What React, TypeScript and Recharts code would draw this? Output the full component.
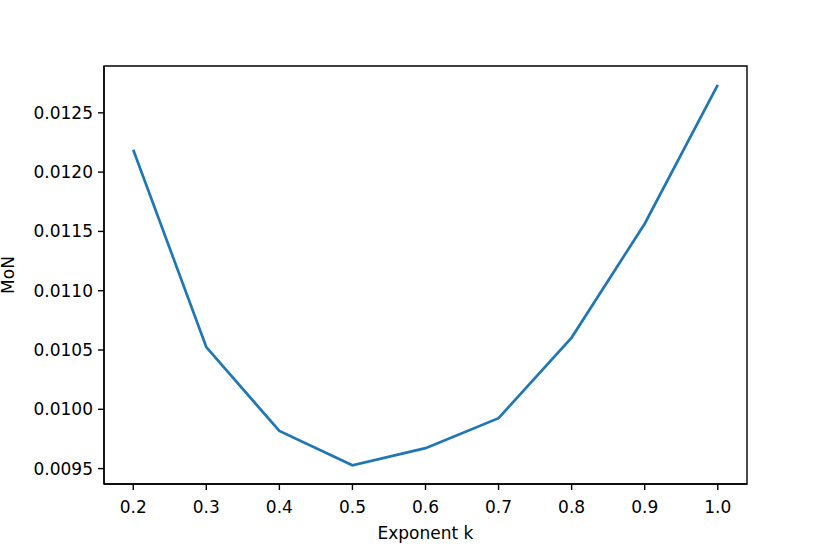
import React from 'react';
import { LineChart, Line, XAxis, YAxis, ReferenceArea } from 'recharts';

const exponents = [0.2, 0.3, 0.4, 0.5, 0.6, 0.7, 0.8, 0.9, 1.0];
const monValues = [0.012189, 0.010525, 0.009817, 0.009528, 0.009672, 0.009925, 0.010605, 0.011565, 0.012735];
const xTicks = [0.2, 0.3, 0.4, 0.5, 0.6, 0.7, 0.8, 0.9, 1.0];
const yTicks = [0.0095, 0.01, 0.0105, 0.011, 0.0115, 0.012, 0.0125];

const data = exponents.map((k, i) => ({ k, mon: monValues[i] }));

const X_DOMAIN: [number, number] = [0.16, 1.04];
const Y_DOMAIN: [number, number] = [0.00937, 0.012895];

const FONT = 'DejaVu Sans, sans-serif';
const tickStyle = { fontSize: 17, fill: '#000', fontFamily: FONT };
const axisLine = { stroke: '#000', strokeWidth: 1.4 };

const App: React.FC = () => {
  return (
    <div style={{ position: 'absolute', left: 0, top: 0, width: 830, height: 554, background: '#fff' }}>
      <LineChart
        width={830}
        height={554}
        data={data}
        margin={{ top: 66, right: 83, bottom: 0, left: 0 }}
      >
        <XAxis
          dataKey="k"
          type="number"
          domain={X_DOMAIN}
          ticks={xTicks}
          tickFormatter={(v: number) => v.toFixed(1)}
          height={70}
          tickSize={6}
          tickMargin={11}
          axisLine={axisLine}
          tickLine={{ stroke: '#000', strokeWidth: 1.4 }}
          tick={tickStyle}
          allowDataOverflow
          label={{ value: 'Exponent k', position: 'insideBottom', offset: 15, fontSize: 17, fill: '#000', fontFamily: FONT }}
        />
        <YAxis
          type="number"
          domain={Y_DOMAIN}
          ticks={yTicks}
          tickFormatter={(v: number) => v.toFixed(4)}
          width={104}
          tickSize={6}
          tickMargin={5}
          axisLine={axisLine}
          tickLine={{ stroke: '#000', strokeWidth: 1.4 }}
          tick={tickStyle}
          allowDataOverflow
          label={{ value: 'MoN', angle: -90, position: 'center', dx: -44, fontSize: 17, fill: '#000', fontFamily: FONT }}
        />
        <ReferenceArea
          x1={X_DOMAIN[0]}
          x2={X_DOMAIN[1]}
          y1={Y_DOMAIN[0]}
          y2={Y_DOMAIN[1]}
          fill="none"
          fillOpacity={0}
          stroke="#000"
          strokeWidth={1.4}
          ifOverflow="visible"
        />
        <Line
          type="linear"
          dataKey="mon"
          stroke="#1f77b4"
          strokeWidth={2.7}
          dot={false}
          isAnimationActive={false}
        />
      </LineChart>
    </div>
  );
};

export default App;
